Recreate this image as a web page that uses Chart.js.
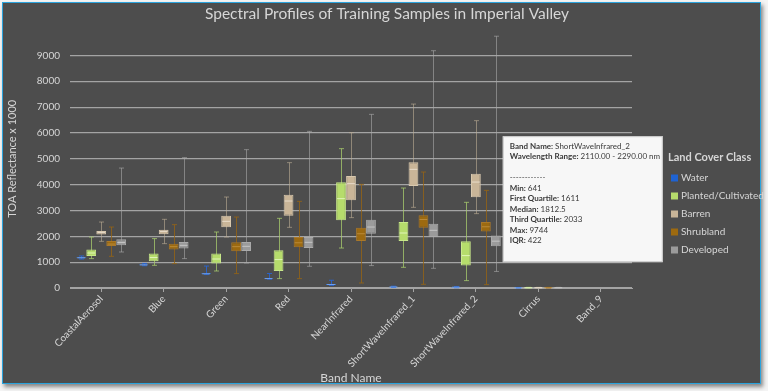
<!DOCTYPE html>
<html>
<head>
<meta charset="utf-8">
<script src="https://cdn.jsdelivr.net/npm/chart.js@4.4.1/dist/chart.umd.min.js"></script>
<style>
  html, body { margin: 0; padding: 0; background: #f4f4f4; }
  #frame {
    position: absolute; left: 2px; top: 2px; width: 757px; height: 380px;
    background: #4d4d4d; border: 1px solid #2ba3dc;
    box-shadow: 2px 3px 4px rgba(0,0,0,0.45);
  }
  #chart { position: absolute; left: 0; top: 0; }
</style>
</head>
<body>
<div id="frame"></div>
<canvas id="chart" width="768" height="391"></canvas>
<script>
const bands = ["CoastalAerosol", "Blue", "Green", "Red", "NearInfrared",
    "ShortWaveInfrared_1", "ShortWaveInfrared_2", "Cirrus", "Band_9"];
const classes = ["Water", "Planted/Cultivated", "Barren", "Shrubland", "Developed"];

// [min, q1, median, q3, max] per band
const water = [
    [1120, 1150, 1170, 1190, 1240],
    [860, 880, 895, 910, 950],
    [520, 535, 550, 570, 850],
    [340, 355, 365, 380, 560],
    [100, 120, 135, 150, 300],
    [20, 30, 40, 50, 70],
    [10, 20, 30, 40, 60],
    [0, 5, 8, 12, 20],
    null,
];
const planted = [
    [1137, 1238, 1354, 1486, 1973],
    [878, 1033, 1180, 1331, 1911],
    [658, 944, 1122, 1331, 2167],
    [363, 658, 1099, 1458, 2696],
    [1547, 2619, 3458, 4089, 5393],
    [801, 1818, 2128, 2553, 3869],
    [286, 867, 1253, 1806, 3315],
    [0, 5, 10, 15, 25],
    null,
];
const barren = [
    [1806, 2066, 2143, 2205, 2553],
    [1717, 2077, 2190, 2259, 2658],
    [1973, 2348, 2580, 2800, 3521],
    [2348, 2800, 3366, 3613, 4851],
    [2723, 3393, 4038, 4333, 6011],
    [3122, 3946, 4592, 4863, 7118],
    [2878, 3509, 4100, 4425, 6476],
    [0, 5, 10, 15, 25],
    null,
];
const shrubland = [
    [1226, 1625, 1700, 1818, 2360],
    [943, 1486, 1600, 1717, 2452],
    [557, 1420, 1600, 1768, 2747],
    [363, 1574, 1750, 1973, 3354],
    [194, 1818, 2100, 2336, 4011],
    [143, 2336, 2650, 2812, 4488],
    [131, 2182, 2370, 2553, 3779],
    [0, 5, 10, 15, 25],
    null,
];
const developed = [
    [1393, 1652, 1760, 1884, 4642],
    [1137, 1524, 1650, 1779, 5044],
    [967, 1431, 1613, 1779, 5354],
    [840, 1547, 1768, 1973, 6062],
    [867, 2104, 2360, 2646, 6720],
    [762, 1973, 2232, 2491, 9183],
    [641, 1611, 1812.5, 2033, 9744],
    [0, 5, 10, 15, 25],
    null,
];
const yTicks = [0, 1000, 2000, 3000, 4000, 5000, 6000, 7000, 8000, 9000];

// hovered box shown in the tooltip
const hoverClass = 4;
const hoverBand = 6;
const hoverRange = "2110.00 - 2290.00 nm";

const series = [water, planted, barren, shrubland, developed];
const fills = ["#1f63d2", "#b6dc6c", "#c9b598", "#9d6a10", "#9b9b9b"];
const edges = ["#3a7ae0", "#c8e88a", "#d8c8ae", "#a9782a", "#ababab"];
const whiskers = ["rgba(40,100,210,0.9)", "rgba(170,205,110,0.75)", "rgba(190,175,150,0.6)",
    "rgba(150,100,20,0.8)", "rgba(170,170,170,0.6)"];
const medians = ["#6fa0ee", "#e0f5b8", "#e8dccb", "#b98a3a", "#c4c4c4"];

const FONT = "Lato, 'Open Sans', sans-serif";
const TEXT = "#d6d6d6";
const GRID = "#a4a4a4";

const boxPlot = {
    id: "boxPlot",
    beforeDatasetsDraw(chart) {
        const { ctx } = chart;
        const y = chart.scales.y;
        ctx.save();
        ctx.lineWidth = 1;
        series.forEach((s, i) => {
            const meta = chart.getDatasetMeta(i);
            ctx.strokeStyle = whiskers[i];
            s.forEach((t, j) => {
                if (!t) return;
                const bar = meta.data[j];
                const x = Math.round(bar.x) + 0.5;
                const yMin = y.getPixelForValue(t[0]);
                const yMax = y.getPixelForValue(t[4]);
                ctx.beginPath();
                ctx.moveTo(x, yMin);
                ctx.lineTo(x, yMax);
                ctx.moveTo(x - 2.5, yMin);
                ctx.lineTo(x + 2.5, yMin);
                ctx.moveTo(x - 2.5, yMax);
                ctx.lineTo(x + 2.5, yMax);
                ctx.stroke();
            });
        });
        ctx.restore();
    },
    afterDatasetsDraw(chart) {
        const { ctx } = chart;
        const y = chart.scales.y;
        ctx.save();
        ctx.lineWidth = 1;
        series.forEach((s, i) => {
            const meta = chart.getDatasetMeta(i);
            ctx.strokeStyle = medians[i];
            s.forEach((t, j) => {
                if (!t) return;
                const bar = meta.data[j];
                const ym = y.getPixelForValue(t[2]);
                ctx.beginPath();
                ctx.moveTo(bar.x - bar.width / 2 + 1, ym);
                ctx.lineTo(bar.x + bar.width / 2 - 1, ym);
                ctx.stroke();
            });
        });
        ctx.restore();
    },
};

const sideLegend = {
    id: "sideLegend",
    afterDraw(chart) {
        const { ctx } = chart;
        ctx.save();
        ctx.textBaseline = "middle";
        ctx.textAlign = "left";
        ctx.fillStyle = TEXT;
        ctx.font = `bold 11px ${FONT}`;
        ctx.fillText("Land Cover Class", 668, 157);
        ctx.font = `10px ${FONT}`;
        chart.data.datasets.forEach((ds, i) => {
            const cy = 178 + i * 18;
            ctx.fillStyle = fills[i];
            ctx.fillRect(671, cy - 3.5, 7, 7);
            ctx.fillStyle = TEXT;
            ctx.fillText(ds.label, 681, cy);
        });
        ctx.restore();
    },
};

const hoverTip = {
    id: "hoverTip",
    afterDraw(chart) {
        const { ctx } = chart;
        const t = series[hoverClass][hoverBand];
        const bar = chart.getDatasetMeta(hoverClass).data[hoverBand];
        const left = bar.x + bar.width / 2 + 2;
        const top = chart.scales.y.getPixelForValue(t[2]) - 105;
        const lines = [
            ["Band Name: ", bands[hoverBand]],
            ["Wavelength Range: ", hoverRange],
            ["", ""],
            ["", "------------"],
            ["Min: ", String(t[0])],
            ["First Quartile: ", String(t[1])],
            ["Median: ", String(t[2])],
            ["Third Quartile: ", String(t[3])],
            ["Max: ", String(t[4])],
            ["IQR: ", String(t[3] - t[1])],
        ];
        ctx.save();
        ctx.fillStyle = "#f7f7f7";
        ctx.strokeStyle = "#c8c8c8";
        ctx.lineWidth = 1;
        ctx.fillRect(left, top, 160, 126);
        ctx.strokeRect(left + 0.5, top + 0.5, 159, 125);
        ctx.textBaseline = "middle";
        ctx.fillStyle = "#3a3a3a";
        lines.forEach((ln, k) => {
            const ly = top + 10 + k * 10.5;
            ctx.font = `bold 8px ${FONT}`;
            ctx.fillText(ln[0], left + 7, ly);
            const w = ctx.measureText(ln[0]).width;
            ctx.font = `8px ${FONT}`;
            ctx.fillText(ln[1], left + 7 + w, ly);
        });
        ctx.restore();
    },
};

const datasets = series.map((s, i) => ({
    label: classes[i],
    data: s.map((t) => (t ? [t[1], t[3]] : null)),
    backgroundColor: fills[i],
    borderColor: edges[i],
    borderWidth: 1,
    borderSkipped: false,
    barPercentage: 0.98,
    categoryPercentage: 0.8,
}));

new Chart(document.getElementById("chart"), {
    type: "bar",
    data: { labels: bands, datasets },
    options: {
        responsive: false,
        animation: false,
        events: [],
        layout: { padding: { left: 6, right: 0, top: 0, bottom: 6 } },
        plugins: {
            legend: { display: false },
            tooltip: { enabled: false },
            title: {
                display: true,
                text: "Spectral Profiles of Training Samples in Imperial Valley",
                color: TEXT,
                font: { family: FONT, size: 15.5, weight: "normal" },
                padding: { top: 5, bottom: 6 },
            },
        },
        scales: {
            x: {
                grid: {
                    display: true,
                    drawOnChartArea: false,
                    drawTicks: true,
                    tickLength: 4,
                    offset: false,
                    color: GRID,
                },
                border: { display: true, color: GRID },
                ticks: {
                    color: TEXT,
                    font: { family: FONT, size: 10 },
                    minRotation: 47,
                    maxRotation: 47,
                    autoSkip: false,
                    padding: 1,
                },
                title: {
                    display: true,
                    text: "Band Name",
                    color: TEXT,
                    font: { family: FONT, size: 12 },
                    padding: { top: 0, bottom: 0 },
                },
                afterFit(scale) {
                    scale.height = 97;
                },
            },
            y: {
                min: 0,
                max: 10000,
                grid: {
                    color: (c) => (c.tick && c.tick.value > 9000 ? "transparent" : GRID),
                    lineWidth: 1.2,
                    drawTicks: false,
                },
                border: { display: false },
                afterBuildTicks(scale) {
                    scale.ticks = yTicks.map((v) => ({ value: v }));
                },
                ticks: {
                    color: TEXT,
                    font: { family: FONT, size: 10 },
                    padding: 10,
                    callback: (v) => String(v),
                },
                title: {
                    display: true,
                    text: "TOA Reflectance x 1000",
                    color: TEXT,
                    font: { family: FONT, size: 11 },
                    padding: { top: 0, bottom: 0 },
                },
                afterFit(scale) {
                    scale.width = 64;
                },
            },
            // empty right-hand axis that only keeps room for the legend
            side: {
                type: "linear",
                position: "right",
                display: true,
                grid: { display: false },
                border: { display: false },
                ticks: { display: false },
                afterFit(scale) {
                    scale.width = 136;
                },
            },
        },
    },
    plugins: [boxPlot, sideLegend, hoverTip],
});
</script>
</body>
</html>
